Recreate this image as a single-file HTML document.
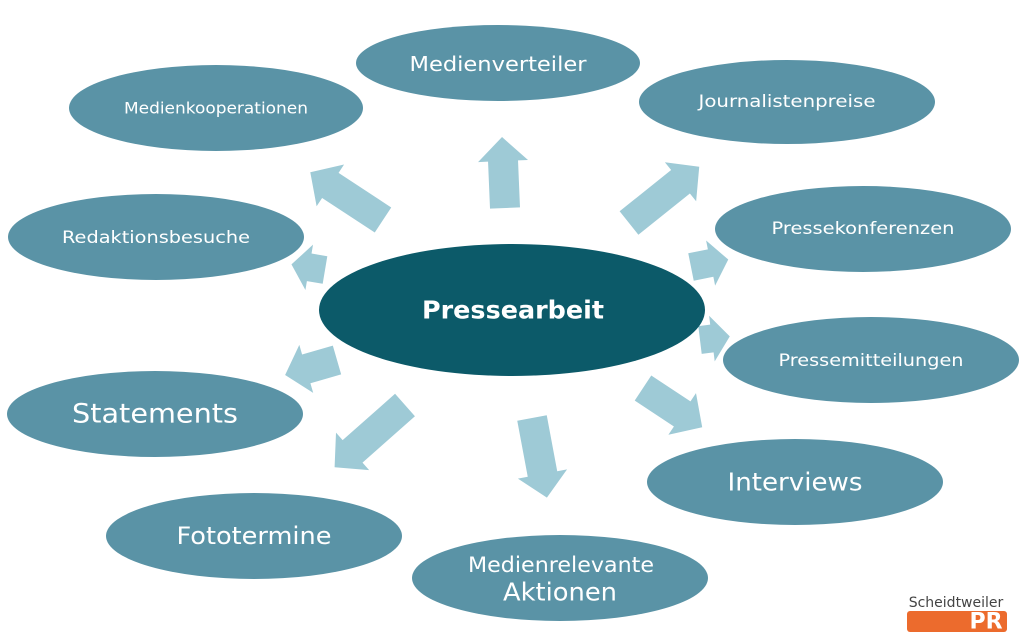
<!DOCTYPE html>
<html><head><meta charset="utf-8"><style>
html,body{margin:0;padding:0;background:#fff;width:1024px;height:634px;overflow:hidden}
svg text{font-family:"DejaVu Sans","Liberation Sans",sans-serif;fill:#fff;text-anchor:middle;dominant-baseline:central}
</style></head><body>
<svg width="1024" height="634" viewBox="0 0 1024 634" xmlns="http://www.w3.org/2000/svg">
<g fill="#9ecad6">
<polygon transform="translate(505,208) rotate(-92.4)" points="0,-15 47,-15 47,-25 71,0 47,25 47,15 0,15"/>
<polygon transform="translate(383,220) rotate(-146.7)" points="0,-15 63,-15 63,-25 87,0 63,25 63,15 0,15"/>
<polygon transform="translate(629,223) rotate(-38.7)" points="0,-15 66,-15 66,-25 90,0 66,25 66,15 0,15"/>
<polygon transform="translate(325,270) rotate(189.5)" points="0,-14 16,-14 16,-23 34,0 16,23 16,14 0,14"/>
<polygon transform="translate(691,267) rotate(-11.3)" points="0,-14 20,-14 20,-23 38,0 20,23 20,14 0,14"/>
<polygon transform="translate(700,340) rotate(-7)" points="0,-14 12,-14 12,-23 30,0 12,23 12,14 0,14"/>
<polygon transform="translate(337,360) rotate(163.9)" points="0,-15 32,-15 32,-25 54,0 32,25 32,15 0,15"/>
<polygon transform="translate(405,405) rotate(138.5)" points="0,-15 70,-15 70,-25 94,0 70,25 70,15 0,15"/>
<polygon transform="translate(532,418) rotate(79.4)" points="0,-15 57,-15 57,-25 81,0 57,25 57,15 0,15"/>
<polygon transform="translate(643,388) rotate(33.5)" points="0,-15 47,-15 47,-25 71,0 47,25 47,15 0,15"/>
</g>
<g fill="#5a93a6">
<ellipse cx="498" cy="63" rx="142" ry="38"/>
<ellipse cx="216" cy="108" rx="147" ry="43"/>
<ellipse cx="787" cy="102" rx="148" ry="42"/>
<ellipse cx="156" cy="237" rx="148" ry="43"/>
<ellipse cx="863" cy="229" rx="148" ry="43"/>
<ellipse cx="871" cy="360" rx="148" ry="43"/>
<ellipse cx="155" cy="414" rx="148" ry="43"/>
<ellipse cx="795" cy="482" rx="148" ry="43"/>
<ellipse cx="254" cy="536" rx="148" ry="43"/>
<ellipse cx="560" cy="578" rx="148" ry="43"/>
</g>
<ellipse cx="512" cy="310" rx="193" ry="66" fill="#0c5a69"/>
<text x="513" y="310" font-size="25" font-weight="bold" textLength="182" lengthAdjust="spacingAndGlyphs">Pressearbeit</text>
<text x="498" y="64" font-size="20" textLength="177" lengthAdjust="spacingAndGlyphs">Medienverteiler</text>
<text x="216" y="108" font-size="16" textLength="184" lengthAdjust="spacingAndGlyphs">Medienkooperationen</text>
<text x="787" y="102" font-size="17" textLength="177" lengthAdjust="spacingAndGlyphs">Journalistenpreise</text>
<text x="156" y="238" font-size="17" textLength="188" lengthAdjust="spacingAndGlyphs">Redaktionsbesuche</text>
<text x="863" y="229" font-size="17" textLength="183" lengthAdjust="spacingAndGlyphs">Pressekonferenzen</text>
<text x="871" y="361" font-size="17" textLength="185" lengthAdjust="spacingAndGlyphs">Pressemitteilungen</text>
<text x="155" y="414" font-size="27" textLength="166" lengthAdjust="spacingAndGlyphs">Statements</text>
<text x="795" y="482" font-size="25" textLength="135" lengthAdjust="spacingAndGlyphs">Interviews</text>
<text x="254" y="536" font-size="24" textLength="155" lengthAdjust="spacingAndGlyphs">Fototermine</text>
<text x="561" y="565" font-size="21" textLength="186" lengthAdjust="spacingAndGlyphs">Medienrelevante</text>
<text x="560" y="592" font-size="25" textLength="114" lengthAdjust="spacingAndGlyphs">Aktionen</text>
<text x="956" y="603" font-size="14" style="fill:#444">Scheidtweiler</text>
<rect x="907" y="611" width="100" height="21" rx="3" fill="#ec6b2d"/>
<text x="986" y="622" font-size="22" font-weight="bold">PR</text>
</svg>
</body></html>
